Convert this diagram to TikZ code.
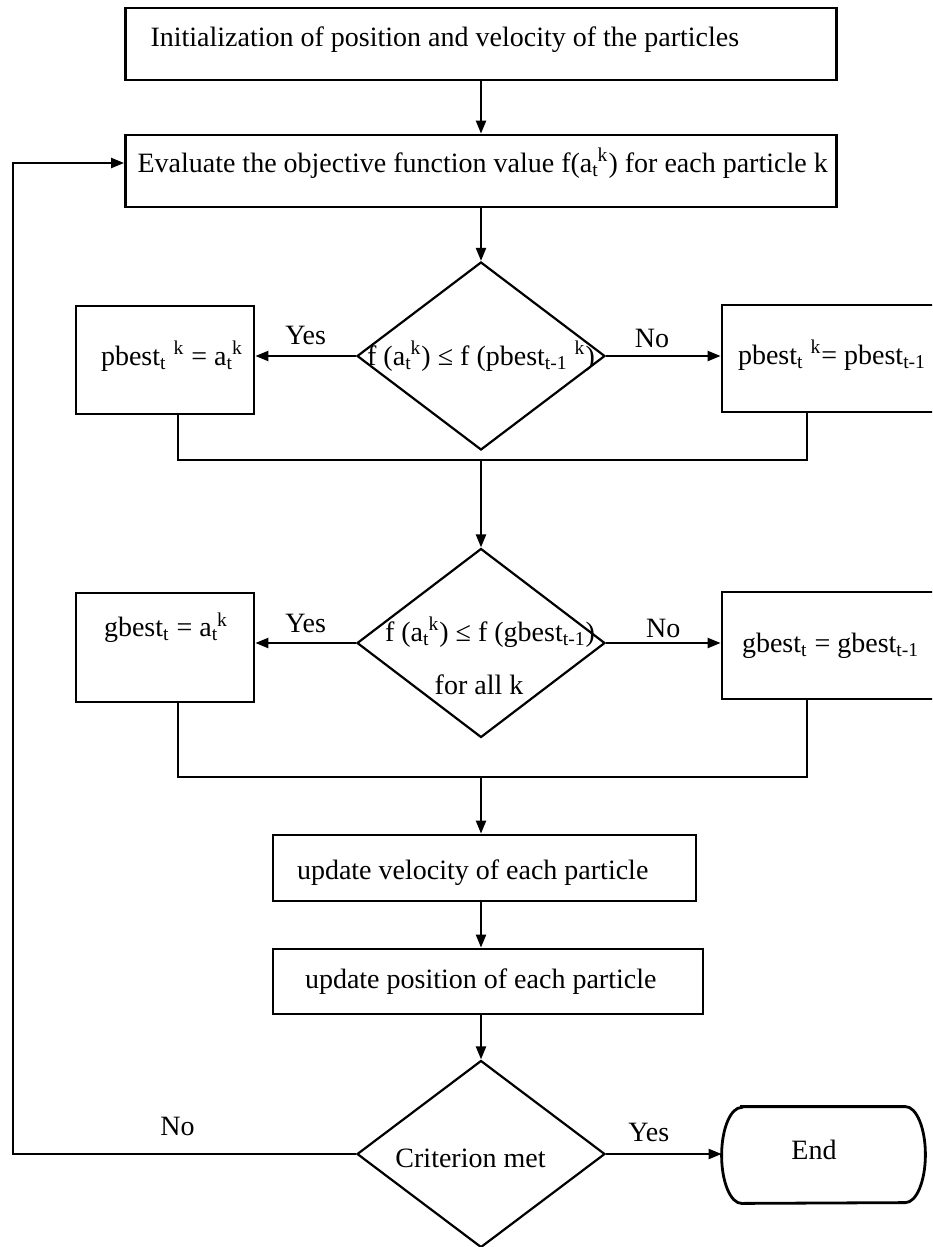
\documentclass[tikz,border=0pt]{standalone}
\usepackage{fontspec}
\setmainfont{Liberation Serif}
\usetikzlibrary{shapes.geometric,arrows.meta}
\newcommand\tk{\textsubscript{t}\kern-0.5pt\textsuperscript{k}}
\newcommand\bt[3]{\raisebox{#1}[\height][\depth]{\makebox[#2][l]{#3}}}
\begin{document}
\begin{tikzpicture}[x=0.5pt,y=-0.5pt,
  every node/.style={font=\fontsize{14}{17}\selectfont},
  bord/.style={draw,line width=1.4pt},
  box/.style={bord,inner ysep=0pt},
  dia/.style={draw,diamond,line width=1.1pt,inner sep=0pt,minimum width=124pt,minimum height=94pt},
  conn/.style={line width=1.1pt},
  arr/.style={conn,-{Triangle[length=6.5pt,width=5pt]}},
  txt/.style={inner sep=0pt}]
\fill[white] (0,0) rectangle (932,1247);
\clip (0,0) rectangle (932,1247);

\node[box,inner xsep=12.5pt,minimum height=36pt] (init) at (481,44) {\bt{2pt}{330.5pt}{Initialization of position and velocity of the particles}};
\node[box,inner xsep=6pt,minimum height=36pt] (eval) at (481,171) {\bt{4pt}{343.5pt}{Evaluate the objective function value f(a\tk) for each particle k}};

\node[dia] (d1) at (481,356) {};
\node[txt] (d1t) at (481,356) {f (a\tk) ≤ f (pbest\textsubscript{t-1} \textsuperscript{k})};
\node[box,inner xsep=12.5pt,minimum height=54pt] (pb1) at (165,360) {\bt{2pt}{64pt}{pbest\textsubscript{t} \textsuperscript{k} = a\tk}};
\node[box,inner xsep=8pt,minimum height=53.5pt] (pb2) at (833.5,358.5) {\bt{1.75pt}{95.5pt}{pbest\textsubscript{t} \textsuperscript{k}= pbest\textsubscript{t-1} \textsuperscript{k}}};

\coordinate (j1L) at (178,460);
\coordinate (j1R) at (807,460);
\coordinate (j1) at (481,460);

\node[dia,minimum height=94.5pt] (d2) at (481,643) {};
\node[txt] (d2t) at (490,632) {f (a\tk) ≤ f (gbest\textsubscript{t-1})};
\node[txt] (d2u) at (479,685) {for all k};
\node[box,inner xsep=14pt,minimum height=54.5pt] (gb1) at (165,647.5) {\bt{10pt}{61pt}{gbest\textsubscript{t} = a\tk}};
\node[box,inner xsep=10pt,minimum height=53.5pt] (gb2) at (833.5,645.5) {\bt{0pt}{91.5pt}{gbest\textsubscript{t} = gbest\textsubscript{t-1}}};

\coordinate (j2L) at (178,777);
\coordinate (j2R) at (807,777);
\coordinate (j2) at (481,777);

\node[box,inner xsep=12pt,minimum height=33pt] (vel) at (484.5,868) {\bt{-2.5pt}{187.5pt}{update velocity of each particle}};
\node[box,inner xsep=16pt,minimum height=32.5pt] (pos) at (488,981.5) {\bt{0pt}{183pt}{update position of each particle}};
\node[dia,minimum height=93.5pt] (d3) at (481,1154) {};
\node[txt] (d3t) at (470.5,1158) {Criterion met};
\node[minimum width=101.5pt,minimum height=48pt,inner sep=0pt] (fin) at (823.5,1155) {};
\node[txt] (fint) at (814,1150) {End};
\draw[bord] ([xshift=10pt]fin.north west) -- ([xshift=-10pt]fin.north east)
  arc[start angle=90,end angle=-90,x radius=10pt,y radius=24pt]
  -- ([xshift=10pt]fin.south west)
  arc[start angle=270,end angle=90,x radius=10pt,y radius=24pt] -- cycle;

\coordinate (fbT) at (13,163);

\draw[arr] (init.south) -- (eval.north);
\draw[arr] (eval.south) -- (d1.north);
\draw[arr] (d1.west) -- node[txt,pos=0.5,yshift=10.5pt] (y1) {Yes} (d1.west -| pb1.east);
\draw[arr] (d1.east) -- node[txt,pos=0.4,yshift=9pt] (n1) {No} (d1.east -| pb2.west);
\draw[conn] (j1L |- pb1.south) -- (j1L) -- (j1R) -- (j1R |- pb2.south);
\draw[arr] (j1) -- (d2.north);
\draw[arr] (d2.west) -- node[txt,pos=0.5,yshift=10pt] (y2) {Yes} (d2.west -| gb1.east);
\draw[arr] (d2.east) -- node[txt,pos=0.5,yshift=7.5pt] (n2) {No} (d2.east -| gb2.west);
\draw[conn] (j2L |- gb1.south) -- (j2L) -- (j2R) -- (j2R |- gb2.south);
\draw[arr] (j2) -- (j2 |- vel.north);
\draw[arr] (j2 |- vel.south) -- (j2 |- pos.north);
\draw[arr] (j2 |- pos.south) -- (d3.north);
\draw[arr] (d3.east) -- node[txt,pos=0.37,yshift=11pt] (y3) {Yes} (d3.east -| fin.west);
\draw[arr] (d3.west) -- node[txt,pos=0.52,yshift=14pt] (n3) {No} (d3.west -| fbT) -- (fbT) -- (fbT -| eval.west);
\end{tikzpicture}
\end{document}
